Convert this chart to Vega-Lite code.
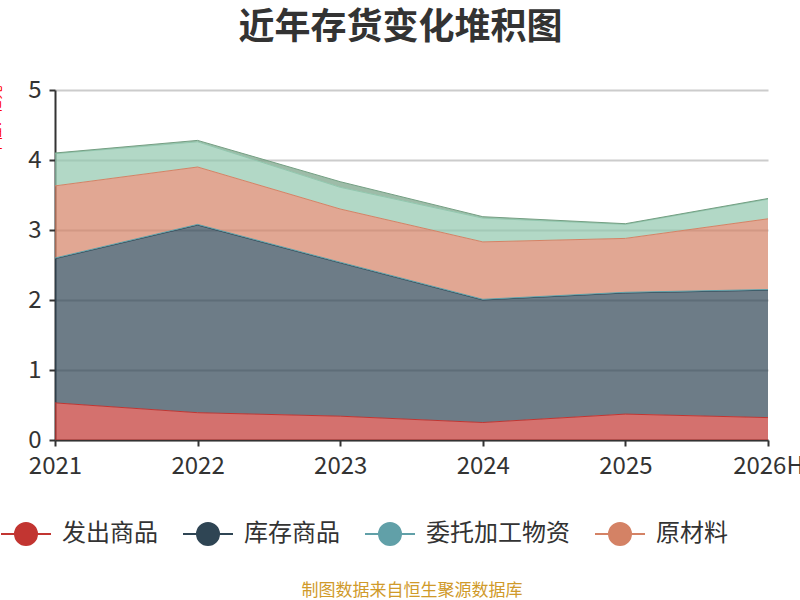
{
  "$schema": "https://vega.github.io/schema/vega-lite/v6.json",
  "description": "近年存货变化堆积图",
  "autosize": "none",
  "width": 713,
  "height": 350,
  "padding": {"left": 55, "top": 90, "right": 32, "bottom": 160},
  "background": "white",
  "config": {
    "font": "Noto Sans CJK SC",
    "view": {"stroke": null}
  },
  "title": {
    "text": "近年存货变化堆积图",
    "fontSize": 36,
    "fontWeight": "bold",
    "color": "#333333",
    "anchor": "middle",
    "dx": -11,
    "offset": 31
  },
  "data": {
    "values": [
      {"year": "2021", "series": "发出商品", "k": 1, "value": 0.53},
      {"year": "2022", "series": "发出商品", "k": 1, "value": 0.39},
      {"year": "2023", "series": "发出商品", "k": 1, "value": 0.34},
      {"year": "2024", "series": "发出商品", "k": 1, "value": 0.25},
      {"year": "2025", "series": "发出商品", "k": 1, "value": 0.37},
      {"year": "2026H", "series": "发出商品", "k": 1, "value": 0.32},
      {"year": "2021", "series": "库存商品", "k": 2, "value": 2.06},
      {"year": "2022", "series": "库存商品", "k": 2, "value": 2.68},
      {"year": "2023", "series": "库存商品", "k": 2, "value": 2.19},
      {"year": "2024", "series": "库存商品", "k": 2, "value": 1.75},
      {"year": "2025", "series": "库存商品", "k": 2, "value": 1.73},
      {"year": "2026H", "series": "库存商品", "k": 2, "value": 1.82},
      {"year": "2021", "series": "委托加工物资", "k": 3, "value": 0.01},
      {"year": "2022", "series": "委托加工物资", "k": 3, "value": 0.01},
      {"year": "2023", "series": "委托加工物资", "k": 3, "value": 0.01},
      {"year": "2024", "series": "委托加工物资", "k": 3, "value": 0.01},
      {"year": "2025", "series": "委托加工物资", "k": 3, "value": 0.01},
      {"year": "2026H", "series": "委托加工物资", "k": 3, "value": 0.01},
      {"year": "2021", "series": "原材料", "k": 4, "value": 1.03},
      {"year": "2022", "series": "原材料", "k": 4, "value": 0.82},
      {"year": "2023", "series": "原材料", "k": 4, "value": 0.76},
      {"year": "2024", "series": "原材料", "k": 4, "value": 0.82},
      {"year": "2025", "series": "原材料", "k": 4, "value": 0.77},
      {"year": "2026H", "series": "原材料", "k": 4, "value": 1.01},
      {"year": "2021", "series": "在产品", "k": 5, "value": 0.46},
      {"year": "2022", "series": "在产品", "k": 5, "value": 0.36},
      {"year": "2023", "series": "在产品", "k": 5, "value": 0.31},
      {"year": "2024", "series": "在产品", "k": 5, "value": 0.34},
      {"year": "2025", "series": "在产品", "k": 5, "value": 0.20},
      {"year": "2026H", "series": "在产品", "k": 5, "value": 0.28},
      {"year": "2021", "series": "周转材料", "k": 6, "value": 0.01},
      {"year": "2022", "series": "周转材料", "k": 6, "value": 0.02},
      {"year": "2023", "series": "周转材料", "k": 6, "value": 0.08},
      {"year": "2024", "series": "周转材料", "k": 6, "value": 0.02},
      {"year": "2025", "series": "周转材料", "k": 6, "value": 0.01},
      {"year": "2026H", "series": "周转材料", "k": 6, "value": 0.01}
    ]
  },
  "mark": {
    "type": "area",
    "fillOpacity": 0.7,
    "line": {"strokeWidth": 1}
  },
  "encoding": {
    "x": {
      "field": "year",
      "type": "ordinal",
      "scale": {"type": "point", "padding": 0},
      "axis": {
        "title": "制图数据来自恒生聚源数据库",
        "titleColor": "#d09a2a",
        "titleFontSize": 17,
        "titleFontWeight": "normal",
        "titleBaseline": "middle",
        "titleY": 150,
        "labelAngle": 0,
        "labelFontSize": 24,
        "labelColor": "#333333",
        "labelPadding": 8,
        "domainColor": "#333333",
        "domainWidth": 2,
        "tickColor": "#333333",
        "tickSize": 6,
        "tickWidth": 2,
        "grid": false
      }
    },
    "y": {
      "field": "value",
      "type": "quantitative",
      "stack": "zero",
      "scale": {"domain": [0, 5], "nice": false},
      "axis": {
        "title": "单位：亿元",
        "titleColor": "#ff0000",
        "titleFontSize": 14,
        "titleFontWeight": "normal",
        "titleAngle": -90,
        "titleX": -53,
        "titleY": 30,
        "titleAlign": "center",
        "values": [0, 1, 2, 3, 4, 5],
        "labelFontSize": 24,
        "labelColor": "#333333",
        "labelPadding": 8,
        "domainColor": "#333333",
        "domainWidth": 2,
        "tickColor": "#333333",
        "tickSize": 6,
        "tickWidth": 2,
        "gridColor": "#cccccc",
        "gridWidth": 2
      }
    },
    "color": {
      "field": "series",
      "type": "nominal",
      "scale": {
        "domain": ["发出商品", "库存商品", "委托加工物资", "原材料", "在产品", "周转材料"],
        "range": ["#c23531", "#2f4554", "#61a0a8", "#d48265", "#91c7ae", "#749f83"]
      },
      "legend": {
        "title": null,
        "orient": "none",
        "direction": "horizontal",
        "legendX": -55,
        "legendY": 418,
        "values": ["发出商品", "库存商品", "委托加工物资", "原材料"],
        "symbolType": "M-1,0L1,0M-0.44,0A0.44,0.44,0,1,1,0.44,0A0.44,0.44,0,1,1,-0.44,0Z",
        "symbolSize": 2500,
        "symbolOpacity": 1,
        "symbolStrokeWidth": 2,
        "labelFontSize": 24,
        "labelColor": "#333333",
        "labelOffset": 10,
        "columnPadding": 21,
        "padding": 0,
        "encode": {
          "symbols": {
            "update": {
              "stroke": {"scale": "color", "field": "value"},
              "fillOpacity": {"value": 1}
            }
          }
        }
      }
    },
    "order": {"field": "k", "type": "quantitative"}
  }
}
